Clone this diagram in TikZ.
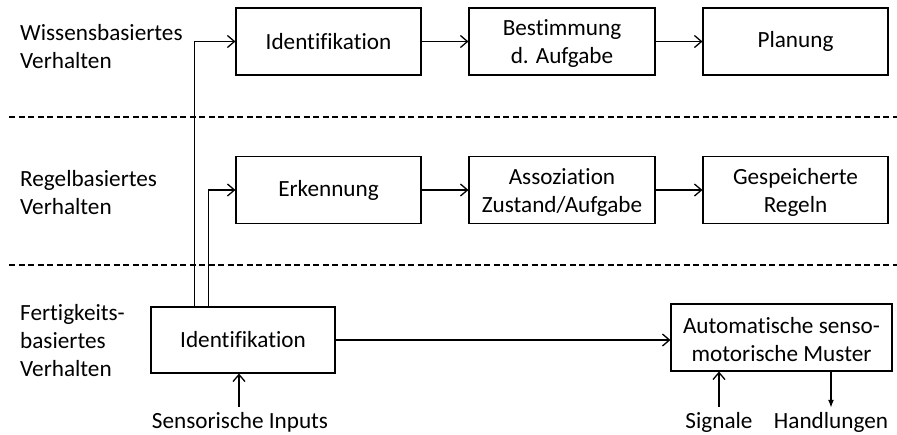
\documentclass[tikz,border=0pt]{standalone}
\usepackage{fontspec}
\setmainfont[Ligatures={NoCommon}]{Carlito}
\usetikzlibrary{arrows.meta}
\newcommand{\topstrut}{\rule{0pt}{20pt}}
\begin{document}
\begin{tikzpicture}[x=1pt,y=-1pt,
  txt/.style={font=\fontsize{23.2}{28}\selectfont},
  box/.style={txt,draw,line width=1.1pt,minimum width=185pt,minimum height=67pt,inner sep=0pt,align=center},
  lbl/.style={txt,align=left,inner sep=0pt,anchor=west},
  bot/.style={txt,inner sep=0pt},
  conn/.style={line width=1.3pt,-{Straight Barb[length=7pt,width=12pt,line width=1.3pt]}},
  connf/.style={line width=1.3pt,-{Latex[length=8pt,width=6pt]}},
  sep/.style={line width=1.3pt,dash pattern=on 6pt off 3.5pt}]
\useasboundingbox (0,0) rectangle (897,434);
% separators
\draw[sep] (9,117) -- (897,117);
\draw[sep] (9,265) -- (897,265);
% level labels
\node[lbl] (wis) at (20,47) {Wissensbasiertes\\Verhalten};
\node[lbl] (reg) at (20,193) {Regelbasiertes\\Verhalten};
\node[lbl] (fer) at (20,341) {Fertigkeits-\\basiertes\\Verhalten};
% boxes
\node[box] (id1) at (328.5,41.5) {Identifikation};
\node[box,minimum width=186pt] (bst) at (562,41.5) {\topstrut Bestimmung\\d. Aufgabe};
\node[box] (pln) at (795.5,41.5) {Planung};
\node[box] (erk) at (328.5,190) {Erkennung};
\node[box,minimum width=186pt] (ass) at (562,190) {\topstrut Assoziation\\Zustand/Aufgabe};
\node[box] (ges) at (795.5,190) {\topstrut Gespeicherte\\Regeln};
\node[box,minimum width=184pt,minimum height=66pt] (id2) at (243,340) {Identifikation};
\node[box,minimum width=221pt] (aut) at (781.5,337.5) {\topstrut Automatische senso-\\motorische Muster};
% bottom labels
\node[bot] (sen) at (240,422) {Sensorische Inputs};
\node[bot] (sig) at (719,422) {Signale};
\node[bot] (hnd) at (831,422) {Handlungen};
% connectors
\draw[conn] (id1) -- (bst);
\draw[conn] (bst) -- (pln);
\draw[conn] (erk) -- (ass);
\draw[conn] (ass) -- (ges);
\draw[conn] ([xshift=44pt]id2.north west) |- (id1.west);
\draw[conn] ([xshift=58pt]id2.north west) |- (erk.west);
\draw[conn] (id2.east) -- (id2.east -| aut.west);
\draw[conn] ([yshift=5pt]sen.north -| 239,0) -- (id2.south -| 239,0);
\draw[conn] ([yshift=5pt]sig.north) -- (sig.north |- aut.south);
\draw[connf] (hnd.north |- aut.south) -- ([yshift=4pt]hnd.north);
\end{tikzpicture}
\end{document}
